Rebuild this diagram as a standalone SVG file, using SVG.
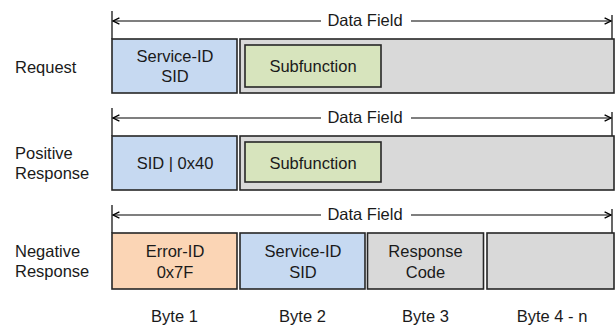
<svg xmlns="http://www.w3.org/2000/svg" width="616" height="325" viewBox="0 0 616 325">
  <defs>
    <marker id="head" viewBox="0 0 10 10" refX="9" refY="5" markerWidth="8" markerHeight="8" orient="auto-start-reverse" markerUnits="userSpaceOnUse">
      <path d="M1,1 L9,5 L1,9" fill="none" stroke="#000" stroke-width="1.7"/>
    </marker>
  </defs>
  <style>
    text { font-family: "Liberation Sans", Arial, sans-serif; font-size: 16.5px; fill: #1a1a1a; }
    .c { text-anchor: middle; }
    .box { stroke: #262626; stroke-width: 1.6; }
    .sid { fill: #c6d9f1; }
    .err { fill: #fbd5b5; }
    .grey { fill: #d9d9d9; }
    .sub { fill: #d7e4bd; }
    .tick { stroke: #000; stroke-width: 1.2; }
    .dim { stroke: #000; stroke-width: 1.2; fill: none; }
  </style>
  <rect width="616" height="325" fill="#fff"/>

  <!-- row labels -->
  <text x="15" y="73">Request</text>
  <text x="15" y="159">Positive</text>
  <text x="15" y="179">Response</text>
  <text x="15" y="257">Negative</text>
  <text x="15" y="277">Response</text>

  <!-- data field dimension lines -->
  <g id="connectors">
    <line class="tick" x1="112" y1="11" x2="112" y2="39"/>
    <line class="tick" x1="612" y1="15" x2="612" y2="39"/>
    <line class="dim" x1="321" y1="21" x2="113" y2="21" marker-end="url(#head)"/>
    <line class="dim" x1="411" y1="21" x2="611" y2="21" marker-end="url(#head)"/>
    <text class="c" x="365" y="26">Data Field</text>

    <line class="tick" x1="112" y1="108" x2="112" y2="136"/>
    <line class="tick" x1="612" y1="112" x2="612" y2="136"/>
    <line class="dim" x1="321" y1="118" x2="113" y2="118" marker-end="url(#head)"/>
    <line class="dim" x1="411" y1="118" x2="611" y2="118" marker-end="url(#head)"/>
    <text class="c" x="365" y="123">Data Field</text>

    <line class="tick" x1="112" y1="205" x2="112" y2="233"/>
    <line class="tick" x1="612" y1="209" x2="612" y2="233"/>
    <line class="dim" x1="321" y1="215" x2="113" y2="215" marker-end="url(#head)"/>
    <line class="dim" x1="411" y1="215" x2="611" y2="215" marker-end="url(#head)"/>
    <text class="c" x="365" y="220">Data Field</text>
  </g>

  <!-- request -->
  <g id="req-sid">
    <rect class="box sid" x="112" y="39" width="125" height="54"/>
    <text class="c" x="175" y="62">Service-ID</text>
    <text class="c" x="175" y="82">SID</text>
  </g>
  <g id="req-data">
    <rect class="box grey" x="240" y="39" width="374" height="54"/>
  </g>
  <g id="req-sub">
    <rect class="box sub" x="245" y="45" width="136" height="42"/>
    <text class="c" x="313" y="72">Subfunction</text>
  </g>

  <!-- positive response -->
  <g id="pos-sid">
    <rect class="box sid" x="112" y="136" width="125" height="54"/>
    <text class="c" x="175" y="169">SID | 0x40</text>
  </g>
  <g id="pos-data">
    <rect class="box grey" x="240" y="136" width="374" height="54"/>
  </g>
  <g id="pos-sub">
    <rect class="box sub" x="245" y="142" width="136" height="40"/>
    <text class="c" x="313" y="169">Subfunction</text>
  </g>

  <!-- negative response -->
  <g id="neg-err">
    <rect class="box err" x="112" y="233" width="125" height="56"/>
    <text class="c" x="175" y="257">Error-ID</text>
    <text class="c" x="175" y="278">0x7F</text>
  </g>
  <g id="neg-sid">
    <rect class="box sid" x="240" y="233" width="125" height="56"/>
    <text class="c" x="303" y="257">Service-ID</text>
    <text class="c" x="303" y="278">SID</text>
  </g>
  <g id="neg-code">
    <rect class="box grey" x="367.5" y="233" width="116" height="56"/>
    <text class="c" x="425.5" y="257">Response</text>
    <text class="c" x="425.5" y="278">Code</text>
  </g>
  <g id="neg-rest">
    <rect class="box grey" x="487" y="233" width="127" height="56"/>
  </g>

  <!-- byte positions -->
  <text class="c" x="174.5" y="322">Byte 1</text>
  <text class="c" x="302.5" y="322">Byte 2</text>
  <text class="c" x="425.5" y="322">Byte 3</text>
  <text class="c" x="552" y="322">Byte 4 - n</text>
</svg>
